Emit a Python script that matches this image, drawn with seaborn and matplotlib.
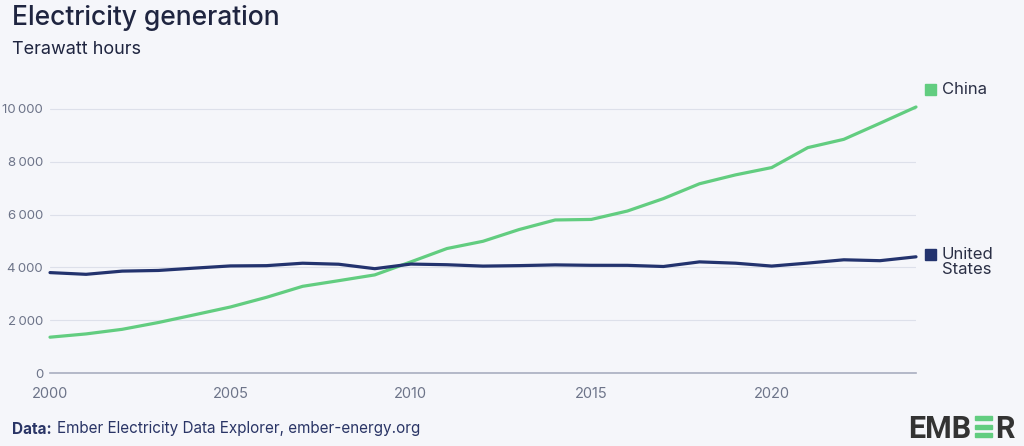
import pandas as pd
import numpy as np
import matplotlib
matplotlib.use("Agg")
import matplotlib.pyplot as plt
import seaborn as sns
from matplotlib.patches import Rectangle

# ======================================
# DATA
years = list(range(2000, 2025))
china = [1356, 1480, 1654, 1911, 2203, 2500, 2866, 3282, 3496, 3715,
         4208, 4713, 4988, 5432, 5795, 5815, 6133, 6604, 7166, 7503,
         7779, 8534, 8849, 9456, 10073]
united_states = [3802, 3737, 3858, 3883, 3971, 4055, 4065, 4157, 4119, 3950,
                 4125, 4100, 4048, 4066, 4094, 4078, 4077, 4033, 4208, 4158,
                 4049, 4162, 4287, 4253, 4400]
series_names = ["China", "United\nStates"]
series_colors = ["#62cd80", "#23336e"]
y_ticks = [0, 2000, 4000, 6000, 8000, 10000]
x_ticks = [2000, 2005, 2010, 2015, 2020]

df = pd.DataFrame({"year": years, "China": china, "United States": united_states})
long_df = df.melt(id_vars="year", var_name="country", value_name="twh")

# ======================================
# STYLE
bg = "#f5f6fa"
sns.set_theme(style="white")
plt.rcParams["font.family"] = ["Inter", "DejaVu Sans"]

fig = plt.figure(figsize=(10.24, 4.46), dpi=100, facecolor=bg)
ax = fig.add_axes([50 / 1024, 1 - 373 / 446, 866 / 1024, 272 / 446])
ax.set_facecolor(bg)

sns.lineplot(data=long_df, x="year", y="twh", hue="country",
             palette={"China": series_colors[0], "United States": series_colors[1]},
             linewidth=2.3, legend=False, ax=ax)
for line in ax.lines:
    line.set_solid_capstyle("round")
    line.set_clip_on(False)

ax.set_xlim(2000, 2024)
ax.set_ylim(0, 10300)
ax.set_yticks(y_ticks)
ax.set_yticklabels([f"{v:,}".replace(",", "\u2009") for v in y_ticks],
                   color="#6d7489", fontsize=9.5)
ax.set_xticks(x_ticks)
ax.set_xticklabels([str(v) for v in x_ticks], color="#6d7489", fontsize=10.5)
ax.tick_params(axis="y", length=0, pad=5)
ax.tick_params(axis="x", length=5, width=0.8, color="#b8bccb", pad=5, direction="out")
ax.set_xlabel("")
ax.set_ylabel("")

ax.grid(axis="y", color="#dde0ea", linewidth=0.8)
ax.set_axisbelow(True)
for side in ["top", "right", "left"]:
    ax.spines[side].set_visible(False)
ax.spines["bottom"].set_color("#a9aec0")
ax.spines["bottom"].set_linewidth(1.2)

# ======================================
# LABELS AT THE END OF EACH LINE
label_y = [10750, 4500]
for name, col, yv in zip(series_names, series_colors, label_y):
    ax.add_patch(Rectangle((2024.25, yv - 210), 0.3, 420,
                           transform=ax.transData, color=col, clip_on=False))
    ax.text(2024.72, yv + 260, name, ha="left", va="top", fontsize=12,
            color="#2a2f45", linespacing=0.95, clip_on=False)

# ======================================
# TITLE / FOOTER
fig.text(12 / 1024, 1 - 18 / 446, "Electricity generation", fontsize=19,
         color="#1f2540", va="center", ha="left", fontweight="medium")
fig.text(12 / 1024, 1 - 49 / 446, "Terawatt hours", fontsize=13,
         color="#1f2540", va="center", ha="left")
data_lbl = fig.text(12 / 1024, 1 - 429 / 446, "Data:", fontsize=11, color="#2a3566",
                    va="center", ha="left", fontweight="bold")
renderer = fig.canvas.get_renderer()
bb = data_lbl.get_window_extent(renderer=renderer)
fig.text((bb.x1 + 5) / 1024, 1 - 429 / 446, "Ember Electricity Data Explorer, ember-energy.org",
         fontsize=11, color="#2a3566", va="center", ha="left")

# EMBER logo
fig.text(908 / 1024, 1 - 429 / 446, "EMB", fontsize=22, fontweight="bold",
         family=["Roboto", "DejaVu Sans"], color="#333333", va="center", ha="left")
for k in range(3):
    fig.patches.append(Rectangle((975 / 1024, 1 - (420 + k * 8.5) / 446), 17 / 1024, 4 / 446,
                                 transform=fig.transFigure, color="#62cd80"))
fig.text(995 / 1024, 1 - 429 / 446, "R", fontsize=22, fontweight="bold",
         family=["Roboto", "DejaVu Sans"], color="#333333", va="center", ha="left")

fig.savefig("out.png", dpi=100, facecolor=bg)
